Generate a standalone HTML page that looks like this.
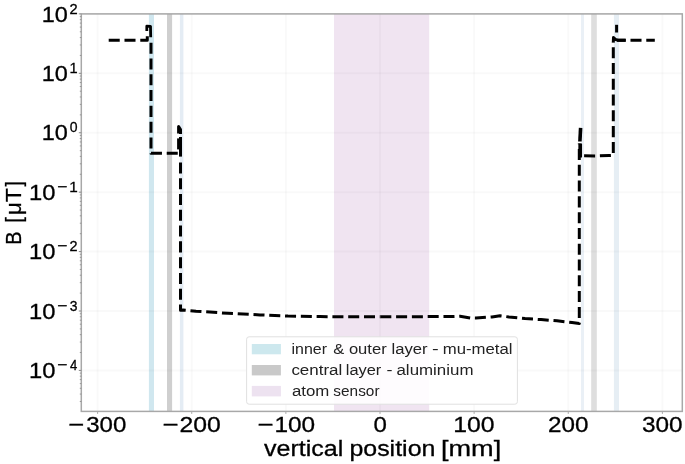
<!DOCTYPE html>
<html><head><meta charset="utf-8"><style>
html,body{margin:0;padding:0;background:#fff;}
body{width:685px;height:464px;overflow:hidden;font-family:"Liberation Sans", sans-serif;}
svg{display:block;will-change:transform;}
</style></head><body>
<svg width="685" height="464" viewBox="0 0 685 464" font-family='"Liberation Sans", sans-serif'><rect x="0" y="0" width="685" height="464" fill="#fff"/>
<rect x="334.0" y="13.9" width="95.19999999999999" height="397.5" fill="#f0e4f1" fill-opacity="1"/>
<rect x="148.9" y="13.9" width="5.099999999999994" height="397.5" fill="#d0e7ef" fill-opacity="1"/>
<rect x="167.0" y="13.9" width="5.099999999999994" height="397.5" fill="#cfcfcf" fill-opacity="1"/>
<rect x="179.9" y="13.9" width="3.5" height="397.5" fill="#e4ecf4" fill-opacity="1"/>
<rect x="581.0" y="13.9" width="3.0" height="397.5" fill="#eaf0f6" fill-opacity="1"/>
<rect x="591.2" y="13.9" width="5.599999999999909" height="397.5" fill="#dedede" fill-opacity="1"/>
<rect x="613.9" y="13.9" width="5.100000000000023" height="397.5" fill="#e6eef4" fill-opacity="1"/>
<line x1="97.61" y1="13.9" x2="97.61" y2="411.4" stroke="#000" stroke-opacity="0.022" stroke-width="2"/>
<line x1="191.74" y1="13.9" x2="191.74" y2="411.4" stroke="#000" stroke-opacity="0.022" stroke-width="2"/>
<line x1="285.87" y1="13.9" x2="285.87" y2="411.4" stroke="#000" stroke-opacity="0.022" stroke-width="2"/>
<line x1="380.00" y1="13.9" x2="380.00" y2="411.4" stroke="#000" stroke-opacity="0.022" stroke-width="2"/>
<line x1="474.13" y1="13.9" x2="474.13" y2="411.4" stroke="#000" stroke-opacity="0.022" stroke-width="2"/>
<line x1="568.26" y1="13.9" x2="568.26" y2="411.4" stroke="#000" stroke-opacity="0.022" stroke-width="2"/>
<line x1="662.39" y1="13.9" x2="662.39" y2="411.4" stroke="#000" stroke-opacity="0.022" stroke-width="2"/>
<line x1="81.3" y1="13.90" x2="682.3" y2="13.90" stroke="#000" stroke-opacity="0.022" stroke-width="2"/>
<line x1="81.3" y1="73.32" x2="682.3" y2="73.32" stroke="#000" stroke-opacity="0.022" stroke-width="2"/>
<line x1="81.3" y1="132.74" x2="682.3" y2="132.74" stroke="#000" stroke-opacity="0.022" stroke-width="2"/>
<line x1="81.3" y1="192.16" x2="682.3" y2="192.16" stroke="#000" stroke-opacity="0.022" stroke-width="2"/>
<line x1="81.3" y1="251.58" x2="682.3" y2="251.58" stroke="#000" stroke-opacity="0.022" stroke-width="2"/>
<line x1="81.3" y1="311.00" x2="682.3" y2="311.00" stroke="#000" stroke-opacity="0.022" stroke-width="2"/>
<line x1="81.3" y1="370.42" x2="682.3" y2="370.42" stroke="#000" stroke-opacity="0.022" stroke-width="2"/>
<path d="M108.70,40.20 L147.30,40.20 L147.30,33.00" fill="none" stroke="#000" stroke-width="3.0" stroke-dasharray="11.03 4.76" stroke-dashoffset="0.000" stroke-linejoin="round"/>
<path d="M146.80,31.00 L146.80,26.20 L150.50,26.40 L150.70,37.30" fill="none" stroke="#000" stroke-width="2.8" stroke-linejoin="round"/>
<path d="M151.00,42.70 L151.00,153.30 L178.60,153.30" fill="none" stroke="#000" stroke-width="3.0" stroke-dasharray="11.03 4.76" stroke-dashoffset="0.000" stroke-linejoin="round"/>
<path d="M178.60,149.40 L178.60,138.40" fill="none" stroke="#000" stroke-width="3.0" stroke-linejoin="round"/>
<path d="M178.60,133.60 L178.60,126.50 L180.50,129.50 L180.50,134.00" fill="none" stroke="#000" stroke-width="3.0" stroke-linejoin="round"/>
<path d="M180.50,137.00 L180.50,156.60" fill="none" stroke="#000" stroke-width="3.0" stroke-linejoin="round"/>
<path d="M180.50,162.40 L180.50,310.30 L183.00,310.00 L196.00,311.20 L228.00,313.30 L260.00,314.90 L288.00,316.10 L320.00,316.60 L344.00,316.80 L380.30,316.80" fill="none" stroke="#000" stroke-width="3.0" stroke-dasharray="11.03 4.76" stroke-dashoffset="0.000" stroke-linejoin="round"/>
<path d="M380.30,316.80 L389.00,316.80 L452.00,316.50 L460.00,316.20 L470.50,318.00 L476.00,318.10 L486.00,317.30 L492.00,316.90 L500.00,315.80 L509.00,317.00 L525.00,318.60 L541.00,319.60 L557.00,320.80 L572.00,322.50 L579.30,323.50 L579.30,143.50" fill="none" stroke="#000" stroke-width="3.0" stroke-dasharray="11.03 4.76" stroke-dashoffset="0.000" stroke-linejoin="round"/>
<path d="M579.90,141.50 L580.60,127.80" fill="none" stroke="#000" stroke-width="3.6" stroke-linejoin="round"/>
<path d="M580.20,143.50 L580.20,157.50" fill="none" stroke="#000" stroke-width="3.7" stroke-linejoin="round"/>
<path d="M581.00,155.80 L596.00,155.90 L609.00,155.50 L613.30,155.30 L613.30,41.90" fill="none" stroke="#000" stroke-width="3.0" stroke-dasharray="11.03 4.76" stroke-dashoffset="12.690" stroke-linejoin="round"/>
<path d="M613.30,42.30 L613.50,37.50 L615.30,39.30 L617.50,40.20 L625.70,40.20" fill="none" stroke="#000" stroke-width="3.0" stroke-linejoin="round"/>
<path d="M617.00,40.20 L654.80,40.20" fill="none" stroke="#000" stroke-width="3.0" stroke-dasharray="11.03 4.76" stroke-dashoffset="2.300" stroke-linejoin="round"/>
<line x1="616.6" y1="24.8" x2="616.6" y2="32.5" stroke="#000" stroke-width="3"/>
<rect x="246.6" y="336.8" width="270.8" height="67.4" rx="2.5" fill="#fff" fill-opacity="0.88" stroke="#e0e0e0" stroke-width="1"/>
<rect x="251.8" y="344.0" width="29.1" height="10.3" fill="#cde8ee"/>
<rect x="251.8" y="365.0" width="29.1" height="10.4" fill="#c9c9c9"/>
<rect x="251.8" y="385.9" width="29.1" height="10.5" fill="#ede2f0"/>
<text transform="translate(291.53,354.10) scale(1.1021,1)" font-size="14.5" fill="#222">inner</text>
<text transform="translate(333.22,354.10) scale(1.1416,1)" font-size="14.5" fill="#222">&amp;</text>
<text transform="translate(348.90,354.10) scale(1.1429,1)" font-size="14.5" fill="#222">outer</text>
<text transform="translate(391.58,354.10) scale(1.1486,1)" font-size="14.5" fill="#222">layer</text>
<text transform="translate(432.01,354.10) scale(1.3842,1)" font-size="14.5" fill="#222">-</text>
<text transform="translate(442.69,354.10) scale(1.1556,1)" font-size="14.5" fill="#222">mu-metal</text>
<text transform="translate(291.38,375.10) scale(1.1709,1)" font-size="14.5" fill="#222">central</text>
<text transform="translate(345.79,375.10) scale(1.1320,1)" font-size="14.5" fill="#222">layer</text>
<text transform="translate(386.40,375.10) scale(1.2429,1)" font-size="14.5" fill="#222">-</text>
<text transform="translate(396.48,375.10) scale(1.1658,1)" font-size="14.5" fill="#222">aluminium</text>
<text transform="translate(291.88,396.10) scale(1.1610,1)" font-size="14.5" fill="#222">atom</text>
<text transform="translate(333.37,396.10) scale(1.0612,1)" font-size="14.5" fill="#222">sensor</text>
<rect x="81.3" y="13.9" width="601.0" height="397.5" fill="none" stroke="#a8a8a8" stroke-width="1.5"/>
<line x1="97.61" y1="411.4" x2="97.61" y2="413.9" stroke="#a8a8a8" stroke-width="1"/>
<line x1="191.74" y1="411.4" x2="191.74" y2="413.9" stroke="#a8a8a8" stroke-width="1"/>
<line x1="285.87" y1="411.4" x2="285.87" y2="413.9" stroke="#a8a8a8" stroke-width="1"/>
<line x1="380.00" y1="411.4" x2="380.00" y2="413.9" stroke="#a8a8a8" stroke-width="1"/>
<line x1="474.13" y1="411.4" x2="474.13" y2="413.9" stroke="#a8a8a8" stroke-width="1"/>
<line x1="568.26" y1="411.4" x2="568.26" y2="413.9" stroke="#a8a8a8" stroke-width="1"/>
<line x1="662.39" y1="411.4" x2="662.39" y2="413.9" stroke="#a8a8a8" stroke-width="1"/>
<line x1="78.8" y1="13.90" x2="81.3" y2="13.90" stroke="#888" stroke-width="1"/>
<line x1="78.8" y1="73.32" x2="81.3" y2="73.32" stroke="#888" stroke-width="1"/>
<line x1="78.8" y1="132.74" x2="81.3" y2="132.74" stroke="#888" stroke-width="1"/>
<line x1="78.8" y1="192.16" x2="81.3" y2="192.16" stroke="#888" stroke-width="1"/>
<line x1="78.8" y1="251.58" x2="81.3" y2="251.58" stroke="#888" stroke-width="1"/>
<line x1="78.8" y1="311.00" x2="81.3" y2="311.00" stroke="#888" stroke-width="1"/>
<line x1="78.8" y1="370.42" x2="81.3" y2="370.42" stroke="#888" stroke-width="1"/>
<line x1="79.8" y1="55.43" x2="81.3" y2="55.43" stroke="#888" stroke-width="0.8"/>
<line x1="79.8" y1="44.97" x2="81.3" y2="44.97" stroke="#888" stroke-width="0.8"/>
<line x1="79.8" y1="37.55" x2="81.3" y2="37.55" stroke="#888" stroke-width="0.8"/>
<line x1="79.8" y1="31.79" x2="81.3" y2="31.79" stroke="#888" stroke-width="0.8"/>
<line x1="79.8" y1="27.08" x2="81.3" y2="27.08" stroke="#888" stroke-width="0.8"/>
<line x1="79.8" y1="23.10" x2="81.3" y2="23.10" stroke="#888" stroke-width="0.8"/>
<line x1="79.8" y1="19.66" x2="81.3" y2="19.66" stroke="#888" stroke-width="0.8"/>
<line x1="79.8" y1="16.62" x2="81.3" y2="16.62" stroke="#888" stroke-width="0.8"/>
<line x1="79.8" y1="114.85" x2="81.3" y2="114.85" stroke="#888" stroke-width="0.8"/>
<line x1="79.8" y1="104.39" x2="81.3" y2="104.39" stroke="#888" stroke-width="0.8"/>
<line x1="79.8" y1="96.97" x2="81.3" y2="96.97" stroke="#888" stroke-width="0.8"/>
<line x1="79.8" y1="91.21" x2="81.3" y2="91.21" stroke="#888" stroke-width="0.8"/>
<line x1="79.8" y1="86.50" x2="81.3" y2="86.50" stroke="#888" stroke-width="0.8"/>
<line x1="79.8" y1="82.52" x2="81.3" y2="82.52" stroke="#888" stroke-width="0.8"/>
<line x1="79.8" y1="79.08" x2="81.3" y2="79.08" stroke="#888" stroke-width="0.8"/>
<line x1="79.8" y1="76.04" x2="81.3" y2="76.04" stroke="#888" stroke-width="0.8"/>
<line x1="79.8" y1="174.27" x2="81.3" y2="174.27" stroke="#888" stroke-width="0.8"/>
<line x1="79.8" y1="163.81" x2="81.3" y2="163.81" stroke="#888" stroke-width="0.8"/>
<line x1="79.8" y1="156.39" x2="81.3" y2="156.39" stroke="#888" stroke-width="0.8"/>
<line x1="79.8" y1="150.63" x2="81.3" y2="150.63" stroke="#888" stroke-width="0.8"/>
<line x1="79.8" y1="145.92" x2="81.3" y2="145.92" stroke="#888" stroke-width="0.8"/>
<line x1="79.8" y1="141.94" x2="81.3" y2="141.94" stroke="#888" stroke-width="0.8"/>
<line x1="79.8" y1="138.50" x2="81.3" y2="138.50" stroke="#888" stroke-width="0.8"/>
<line x1="79.8" y1="135.46" x2="81.3" y2="135.46" stroke="#888" stroke-width="0.8"/>
<line x1="79.8" y1="233.69" x2="81.3" y2="233.69" stroke="#888" stroke-width="0.8"/>
<line x1="79.8" y1="223.23" x2="81.3" y2="223.23" stroke="#888" stroke-width="0.8"/>
<line x1="79.8" y1="215.81" x2="81.3" y2="215.81" stroke="#888" stroke-width="0.8"/>
<line x1="79.8" y1="210.05" x2="81.3" y2="210.05" stroke="#888" stroke-width="0.8"/>
<line x1="79.8" y1="205.34" x2="81.3" y2="205.34" stroke="#888" stroke-width="0.8"/>
<line x1="79.8" y1="201.36" x2="81.3" y2="201.36" stroke="#888" stroke-width="0.8"/>
<line x1="79.8" y1="197.92" x2="81.3" y2="197.92" stroke="#888" stroke-width="0.8"/>
<line x1="79.8" y1="194.88" x2="81.3" y2="194.88" stroke="#888" stroke-width="0.8"/>
<line x1="79.8" y1="293.11" x2="81.3" y2="293.11" stroke="#888" stroke-width="0.8"/>
<line x1="79.8" y1="282.65" x2="81.3" y2="282.65" stroke="#888" stroke-width="0.8"/>
<line x1="79.8" y1="275.23" x2="81.3" y2="275.23" stroke="#888" stroke-width="0.8"/>
<line x1="79.8" y1="269.47" x2="81.3" y2="269.47" stroke="#888" stroke-width="0.8"/>
<line x1="79.8" y1="264.76" x2="81.3" y2="264.76" stroke="#888" stroke-width="0.8"/>
<line x1="79.8" y1="260.78" x2="81.3" y2="260.78" stroke="#888" stroke-width="0.8"/>
<line x1="79.8" y1="257.34" x2="81.3" y2="257.34" stroke="#888" stroke-width="0.8"/>
<line x1="79.8" y1="254.30" x2="81.3" y2="254.30" stroke="#888" stroke-width="0.8"/>
<line x1="79.8" y1="352.53" x2="81.3" y2="352.53" stroke="#888" stroke-width="0.8"/>
<line x1="79.8" y1="342.07" x2="81.3" y2="342.07" stroke="#888" stroke-width="0.8"/>
<line x1="79.8" y1="334.65" x2="81.3" y2="334.65" stroke="#888" stroke-width="0.8"/>
<line x1="79.8" y1="328.89" x2="81.3" y2="328.89" stroke="#888" stroke-width="0.8"/>
<line x1="79.8" y1="324.18" x2="81.3" y2="324.18" stroke="#888" stroke-width="0.8"/>
<line x1="79.8" y1="320.20" x2="81.3" y2="320.20" stroke="#888" stroke-width="0.8"/>
<line x1="79.8" y1="316.76" x2="81.3" y2="316.76" stroke="#888" stroke-width="0.8"/>
<line x1="79.8" y1="313.72" x2="81.3" y2="313.72" stroke="#888" stroke-width="0.8"/>
<line x1="79.8" y1="401.49" x2="81.3" y2="401.49" stroke="#888" stroke-width="0.8"/>
<line x1="79.8" y1="394.07" x2="81.3" y2="394.07" stroke="#888" stroke-width="0.8"/>
<line x1="79.8" y1="388.31" x2="81.3" y2="388.31" stroke="#888" stroke-width="0.8"/>
<line x1="79.8" y1="383.60" x2="81.3" y2="383.60" stroke="#888" stroke-width="0.8"/>
<line x1="79.8" y1="379.62" x2="81.3" y2="379.62" stroke="#888" stroke-width="0.8"/>
<line x1="79.8" y1="376.18" x2="81.3" y2="376.18" stroke="#888" stroke-width="0.8"/>
<line x1="79.8" y1="373.14" x2="81.3" y2="373.14" stroke="#888" stroke-width="0.8"/>
<text transform="translate(68.35,432.30) scale(1.2221,1)" font-size="22.4" fill="#000" stroke="#000" stroke-width="0.3">−</text>
<text transform="translate(86.18,432.30) scale(1.0745,1)" font-size="22.4" fill="#000" stroke="#000" stroke-width="0.3">300</text>
<text transform="translate(162.44,432.30) scale(1.2313,1)" font-size="22.4" fill="#000" stroke="#000" stroke-width="0.3">−</text>
<text transform="translate(179.45,432.30) scale(1.1054,1)" font-size="22.4" fill="#000" stroke="#000" stroke-width="0.3">200</text>
<text transform="translate(257.44,432.30) scale(1.2313,1)" font-size="22.4" fill="#000" stroke="#000" stroke-width="0.3">−</text>
<text transform="translate(274.44,432.30) scale(1.0893,1)" font-size="22.4" fill="#000" stroke="#000" stroke-width="0.3">100</text>
<text transform="translate(373.56,432.30) scale(1.0740,1)" font-size="22.4" fill="#000" stroke="#000" stroke-width="0.3">0</text>
<text transform="translate(453.31,432.30) scale(1.1066,1)" font-size="22.4" fill="#000" stroke="#000" stroke-width="0.3">100</text>
<text transform="translate(548.08,432.30) scale(1.0828,1)" font-size="22.4" fill="#000" stroke="#000" stroke-width="0.3">200</text>
<text transform="translate(641.97,432.30) scale(1.0885,1)" font-size="22.4" fill="#000" stroke="#000" stroke-width="0.3">300</text>
<text transform="translate(41.81,21.50) scale(1.0668,1)" font-size="22.0" fill="#000" stroke="#000" stroke-width="0.3">10</text>
<text transform="translate(69.46,13.50) scale(0.9550,1)" font-size="15.4" fill="#000" stroke="#000" stroke-width="0.3">2</text>
<text transform="translate(41.81,80.92) scale(1.0668,1)" font-size="22.0" fill="#000" stroke="#000" stroke-width="0.3">10</text>
<text transform="translate(69.49,72.92) scale(0.9488,1)" font-size="15.4" fill="#000" stroke="#000" stroke-width="0.3">1</text>
<text transform="translate(41.81,140.34) scale(1.0668,1)" font-size="22.0" fill="#000" stroke="#000" stroke-width="0.3">10</text>
<text transform="translate(69.65,132.34) scale(0.9101,1)" font-size="15.4" fill="#000" stroke="#000" stroke-width="0.3">0</text>
<text transform="translate(29.09,199.76) scale(1.0804,1)" font-size="22.0" fill="#000" stroke="#000" stroke-width="0.3">10</text>
<text transform="translate(57.14,191.76) scale(1.1361,1)" font-size="15.4" fill="#000" stroke="#000" stroke-width="0.3">−</text>
<text transform="translate(69.13,191.76) scale(0.9940,1)" font-size="15.4" fill="#000" stroke="#000" stroke-width="0.3">1</text>
<text transform="translate(29.09,259.18) scale(1.0804,1)" font-size="22.0" fill="#000" stroke="#000" stroke-width="0.3">10</text>
<text transform="translate(57.14,251.18) scale(1.1361,1)" font-size="15.4" fill="#000" stroke="#000" stroke-width="0.3">−</text>
<text transform="translate(69.57,251.18) scale(0.9407,1)" font-size="15.4" fill="#000" stroke="#000" stroke-width="0.3">2</text>
<text transform="translate(29.09,318.60) scale(1.0804,1)" font-size="22.0" fill="#000" stroke="#000" stroke-width="0.3">10</text>
<text transform="translate(57.14,310.60) scale(1.1361,1)" font-size="15.4" fill="#000" stroke="#000" stroke-width="0.3">−</text>
<text transform="translate(69.77,310.60) scale(0.9039,1)" font-size="15.4" fill="#000" stroke="#000" stroke-width="0.3">3</text>
<text transform="translate(29.09,378.02) scale(1.0804,1)" font-size="22.0" fill="#000" stroke="#000" stroke-width="0.3">10</text>
<text transform="translate(57.14,370.02) scale(1.1361,1)" font-size="15.4" fill="#000" stroke="#000" stroke-width="0.3">−</text>
<text transform="translate(70.00,370.02) scale(0.8505,1)" font-size="15.4" fill="#000" stroke="#000" stroke-width="0.3">4</text>
<text transform="translate(264.01,455.80) scale(1.1389,1)" font-size="22.0" fill="#000" stroke="#000" stroke-width="0.3">vertical</text>
<text transform="translate(349.39,455.80) scale(1.1345,1)" font-size="22.0" fill="#000" stroke="#000" stroke-width="0.3">position</text>
<text transform="translate(440.97,455.80) scale(1.2331,1)" font-size="22.0" fill="#000" stroke="#000" stroke-width="0.3">[mm]</text>
<g transform="rotate(-90)"><text transform="translate(-244.83,20.50) scale(0.8971,1)" font-size="22.2" fill="#000" stroke="#000" stroke-width="0.3">B</text><text transform="translate(-222.73,20.50) scale(0.9067,1)" font-size="22.2" fill="#000" stroke="#000" stroke-width="0.3">[</text><text transform="translate(-214.89,20.50) scale(0.9928,1)" font-size="22.2" fill="#000" stroke="#000" stroke-width="0.3">μ</text><text transform="translate(-202.01,20.50) scale(1.0197,1)" font-size="22.2" fill="#000" stroke="#000" stroke-width="0.3">T</text><text transform="translate(-186.55,20.50) scale(0.8613,1)" font-size="22.2" fill="#000" stroke="#000" stroke-width="0.3">]</text></g></svg>
</body></html>
